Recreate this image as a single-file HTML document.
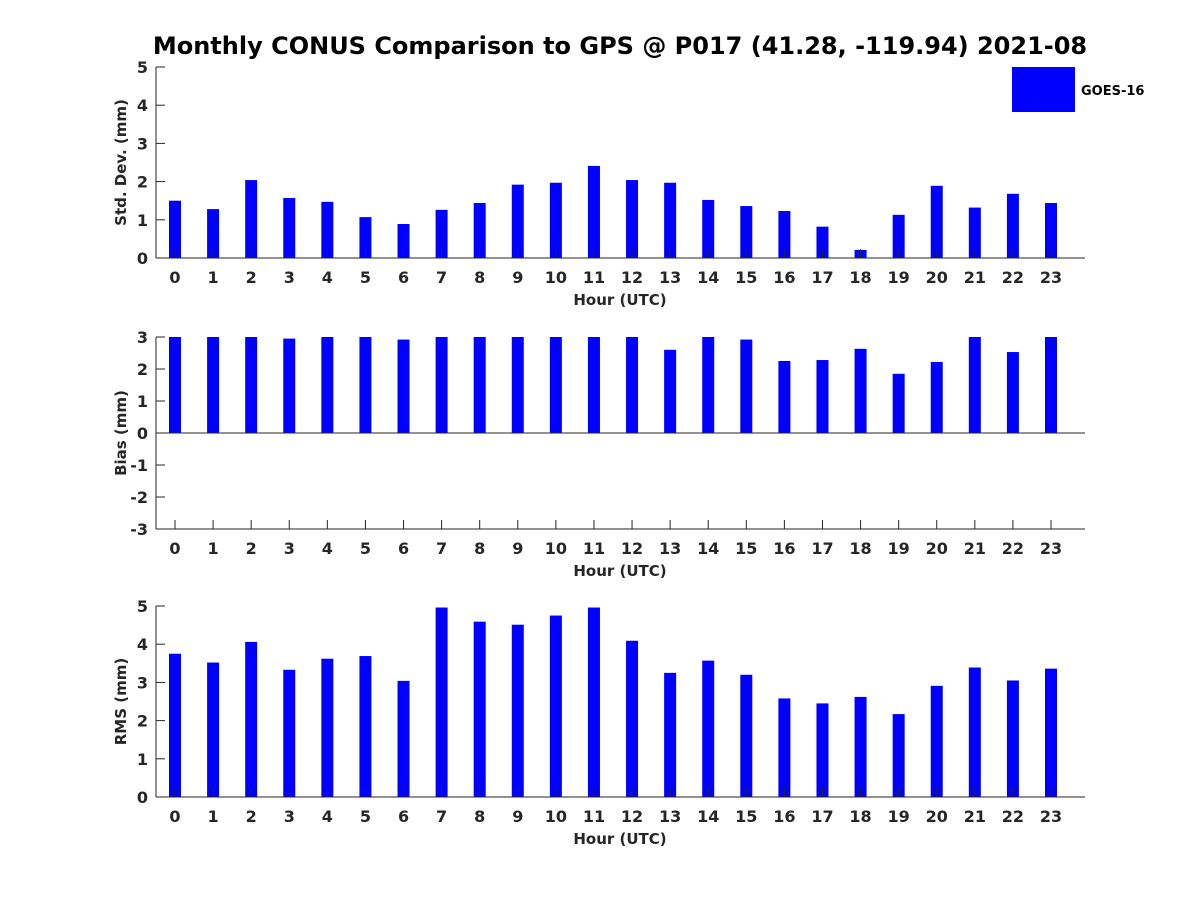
<!DOCTYPE html>
<html><head><meta charset="utf-8"><style>
body{margin:0;background:#fff}
svg{display:block;font-family:"DejaVu Sans","Liberation Sans",sans-serif;font-weight:bold}
</style></head><body>
<svg id="c" width="1200" height="900">
<text x="620" y="54" text-anchor="middle" font-size="24" fill="#000">Monthly CONUS Comparison to GPS @ P017 (41.28, -119.94) 2021-08</text>
<rect x="1012" y="67" width="63" height="45" fill="#0000ff"/>
<text x="1081" y="95" font-size="13" fill="#000">GOES-16</text>
</svg>
<script>
const hours=[0,1,2,3,4,5,6,7,8,9,10,11,12,13,14,15,16,17,18,19,20,21,22,23];
const stdDev=[1.5,1.28,2.04,1.57,1.47,1.07,0.89,1.26,1.44,1.92,1.97,2.41,2.04,1.97,1.52,1.36,1.23,0.82,0.21,1.13,1.89,1.32,1.68,1.44];
const bias=[3,3,3,2.95,3,3,2.92,3,3,3,3,3,3,2.6,3,2.92,2.25,2.28,2.63,1.85,2.22,3,2.53,3];
const rms=[3.75,3.52,4.06,3.33,3.62,3.69,3.04,4.96,4.59,4.51,4.75,4.96,4.09,3.25,3.57,3.2,2.58,2.45,2.62,2.17,2.91,3.39,3.05,3.36];
const stdTicks=[0,1,2,3,4,5];
const biasTicks=[-3,-2,-1,0,1,2,3];
const rmsTicks=[0,1,2,3,4,5];
const NS='http://www.w3.org/2000/svg';
const svg=document.getElementById('c');
function mk(t,a,p){const e=document.createElementNS(NS,t);for(const k in a)e.setAttribute(k,a[k]);(p||svg).appendChild(e);return e;}
function panel(name,top,bot,ymin,ymax,ticks,vals,ylabel){
  const g=mk('g',{});
  
  
  const x0=156,x1=1085;
  const xs=h=>175+(h-hours[0])*(1051-175)/(hours.length-1);
  const ys=v=>bot-(v-ymin)*(bot-top)/(ymax-ymin);
  const zero=ys(Math.max(ymin,0));
  vals.forEach((v,i)=>{
    const y=ys(Math.min(v,ymax));
    const b=mk('rect',{x:xs(hours[i])-6,y:Math.min(y,zero),width:12,height:Math.abs(zero-y),fill:'#0000ff'},g);
    
    
  });
  mk('line',{x1:x0,y1:top,x2:x0,y2:bot,stroke:'#262626','stroke-width':1},g);
  mk('line',{x1:x0,y1:zero,x2:x1,y2:zero,stroke:'#262626','stroke-width':1},g);
  if(ymin<0){mk('line',{x1:x0,y1:bot,x2:x1,y2:bot,stroke:'#262626','stroke-width':1},g);}
  ticks.forEach(t=>{
    const y=ys(t);
    mk('line',{x1:x0,y1:y,x2:x0+9,y2:y,stroke:'#262626'},g);
    const tx=mk('text',{x:x0-8,y:y+6,'text-anchor':'end','font-size':16,fill:'#262626'},g);
    tx.textContent=t;
    
    
  });
  hours.forEach(h=>{
    const x=xs(h);
    mk('line',{x1:x,y1:bot,x2:x,y2:bot-9,stroke:'#262626'},g);
    const tx=mk('text',{x:x,y:bot+25,'text-anchor':'middle','font-size':16,fill:'#262626'},g);
    tx.textContent=h;
    
    
  });
  const xl=mk('text',{x:620,y:bot+47,'text-anchor':'middle','font-size':15,fill:'#262626'},g);
  xl.textContent='Hour (UTC)';
  
  
  const cy=(top+bot)/2;
  const yl=mk('text',{x:126,y:cy,'text-anchor':'middle','font-size':15,fill:'#262626',transform:'rotate(-90 126 '+cy+')'},g);
  yl.textContent=ylabel;
  
  
}
panel('std-dev',67,258,0,5,stdTicks,stdDev,'Std. Dev. (mm)');
panel('bias',337,529,-3,3,biasTicks,bias,'Bias (mm)');
panel('rms',606,797,0,5,rmsTicks,rms,'RMS (mm)');
</script>
</body></html>
